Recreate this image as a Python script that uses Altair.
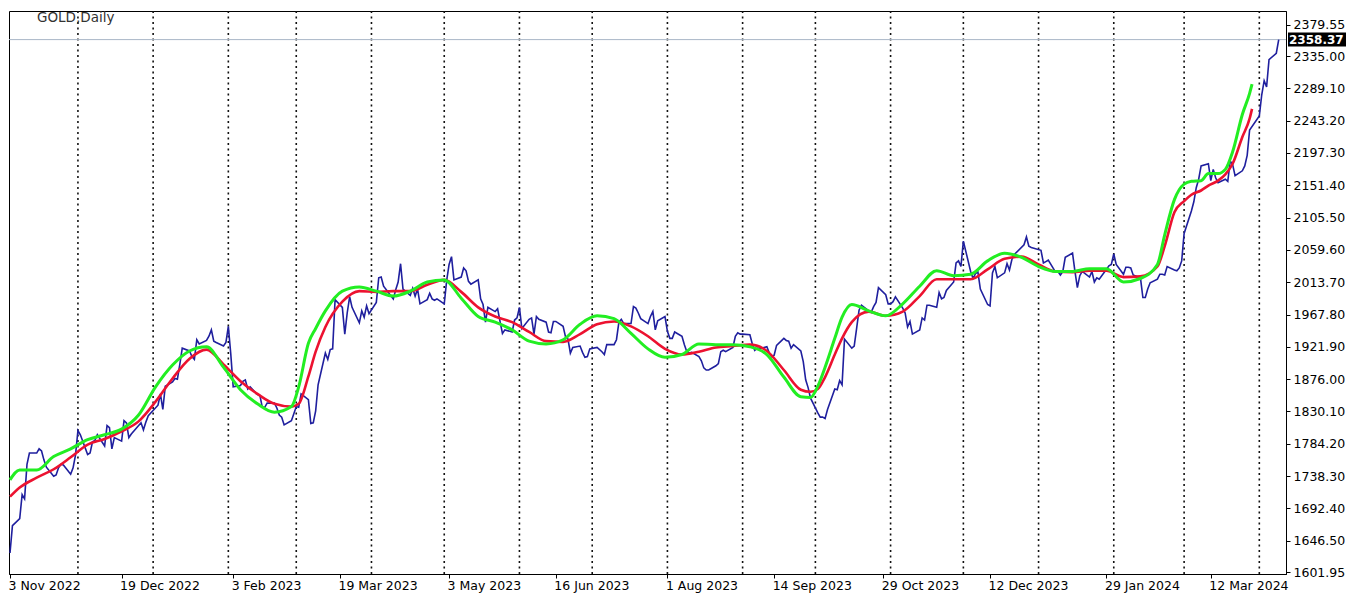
import altair as alt
import pandas as pd

# ---------------- data ----------------
symbol_label = "GOLD,Daily"
last_price = 2358.37

close_dates = [
"2022-11-03","2022-11-04","2022-11-07","2022-11-08","2022-11-09","2022-11-10","2022-11-11","2022-11-14","2022-11-15","2022-11-16","2022-11-17","2022-11-18","2022-11-21","2022-11-22","2022-11-23","2022-11-24","2022-11-25","2022-11-28","2022-11-29","2022-11-30",
"2022-12-01","2022-12-02","2022-12-05","2022-12-06","2022-12-07","2022-12-08","2022-12-09","2022-12-12","2022-12-13","2022-12-14","2022-12-15","2022-12-16","2022-12-19","2022-12-20","2022-12-21","2022-12-22","2022-12-23","2022-12-27","2022-12-28","2022-12-29","2022-12-30",
"2023-01-03","2023-01-04","2023-01-05","2023-01-06","2023-01-09","2023-01-10","2023-01-11","2023-01-12","2023-01-13","2023-01-16","2023-01-17","2023-01-18","2023-01-19","2023-01-20","2023-01-23","2023-01-24","2023-01-25","2023-01-26","2023-01-27","2023-01-30","2023-01-31",
"2023-02-01","2023-02-02","2023-02-03","2023-02-06","2023-02-07","2023-02-08","2023-02-09","2023-02-10","2023-02-13","2023-02-14","2023-02-15","2023-02-16","2023-02-17","2023-02-20","2023-02-21","2023-02-22","2023-02-23","2023-02-24","2023-02-27","2023-02-28",
"2023-03-01","2023-03-02","2023-03-03","2023-03-06","2023-03-07","2023-03-08","2023-03-09","2023-03-10","2023-03-13","2023-03-14","2023-03-15","2023-03-16","2023-03-17","2023-03-20","2023-03-21","2023-03-22","2023-03-23","2023-03-24","2023-03-27","2023-03-28","2023-03-29","2023-03-30","2023-03-31",
"2023-04-03","2023-04-04","2023-04-05","2023-04-06","2023-04-10","2023-04-11","2023-04-12","2023-04-13","2023-04-14","2023-04-17","2023-04-18","2023-04-19","2023-04-20","2023-04-21","2023-04-24","2023-04-25","2023-04-26","2023-04-27","2023-04-28",
"2023-05-01","2023-05-02","2023-05-03","2023-05-04","2023-05-05","2023-05-08","2023-05-09","2023-05-10","2023-05-11","2023-05-12","2023-05-15","2023-05-16","2023-05-17","2023-05-18","2023-05-19","2023-05-22","2023-05-23","2023-05-24","2023-05-25","2023-05-26","2023-05-29","2023-05-30","2023-05-31",
"2023-06-01","2023-06-02","2023-06-05","2023-06-06","2023-06-07","2023-06-08","2023-06-09","2023-06-12","2023-06-13","2023-06-14","2023-06-15","2023-06-16","2023-06-19","2023-06-20","2023-06-21","2023-06-22","2023-06-23","2023-06-26","2023-06-27","2023-06-28","2023-06-29","2023-06-30",
"2023-07-03","2023-07-05","2023-07-06","2023-07-07","2023-07-10","2023-07-11","2023-07-12","2023-07-13","2023-07-14","2023-07-17","2023-07-18","2023-07-19","2023-07-20","2023-07-21","2023-07-24","2023-07-25","2023-07-26","2023-07-27","2023-07-28","2023-07-31",
"2023-08-01","2023-08-02","2023-08-03","2023-08-04","2023-08-07","2023-08-08","2023-08-09","2023-08-10","2023-08-11","2023-08-14","2023-08-15","2023-08-16","2023-08-17","2023-08-18","2023-08-21","2023-08-22","2023-08-23","2023-08-24","2023-08-25","2023-08-28","2023-08-29","2023-08-30","2023-08-31",
"2023-09-01","2023-09-04","2023-09-05","2023-09-06","2023-09-07","2023-09-08","2023-09-11","2023-09-12","2023-09-13","2023-09-14","2023-09-15","2023-09-18","2023-09-19","2023-09-20","2023-09-21","2023-09-22","2023-09-25","2023-09-26","2023-09-27","2023-09-28","2023-09-29",
"2023-10-02","2023-10-03","2023-10-04","2023-10-05","2023-10-06","2023-10-09","2023-10-10","2023-10-11","2023-10-12","2023-10-13","2023-10-16","2023-10-17","2023-10-18","2023-10-19","2023-10-20","2023-10-23","2023-10-24","2023-10-25","2023-10-26","2023-10-27","2023-10-30","2023-10-31",
"2023-11-01","2023-11-02","2023-11-03","2023-11-06","2023-11-07","2023-11-08","2023-11-09","2023-11-10","2023-11-13","2023-11-14","2023-11-15","2023-11-16","2023-11-17","2023-11-20","2023-11-21","2023-11-22","2023-11-23","2023-11-24","2023-11-27","2023-11-28","2023-11-29","2023-11-30",
"2023-12-01","2023-12-04","2023-12-05","2023-12-06","2023-12-07","2023-12-08","2023-12-11","2023-12-12","2023-12-13","2023-12-14","2023-12-15","2023-12-18","2023-12-19","2023-12-20","2023-12-21","2023-12-22","2023-12-26","2023-12-27","2023-12-28","2023-12-29",
"2024-01-02","2024-01-03","2024-01-04","2024-01-05","2024-01-08","2024-01-09","2024-01-10","2024-01-11","2024-01-12","2024-01-15","2024-01-16","2024-01-17","2024-01-18","2024-01-19","2024-01-22","2024-01-23","2024-01-24","2024-01-25","2024-01-26","2024-01-29","2024-01-30","2024-01-31",
"2024-02-01","2024-02-02","2024-02-05","2024-02-06","2024-02-07","2024-02-08","2024-02-09","2024-02-12","2024-02-13","2024-02-14","2024-02-15","2024-02-16","2024-02-19","2024-02-20","2024-02-21","2024-02-22","2024-02-23","2024-02-26","2024-02-27","2024-02-28","2024-02-29",
"2024-03-01","2024-03-04","2024-03-05","2024-03-06","2024-03-07","2024-03-08","2024-03-11","2024-03-12","2024-03-13","2024-03-14","2024-03-15","2024-03-18","2024-03-19","2024-03-20","2024-03-21","2024-03-22","2024-03-25","2024-03-26","2024-03-27","2024-03-28",
"2024-04-01","2024-04-02","2024-04-03","2024-04-04","2024-04-05","2024-04-08","2024-04-09",
]

close_values = [
1629,1668,1678,1712,1706,1755,1771,1771,1777,1774,1761,1751,1738,1740,1750,1755,1754,1741,1750,1768,
1803,1797,1769,1771,1787,1789,1797,1781,1810,1807,1777,1793,1788,1817,1814,1793,1798,1814,1804,1815,1824,
1839,1855,1833,1866,1872,1877,1876,1897,1920,1916,1908,1904,1932,1926,1931,1937,1946,1930,1928,1923,1928,
1951,1912,1865,1867,1873,1875,1862,1865,1854,1853,1836,1836,1842,1842,1835,1825,1822,1811,1817,1827,
1837,1836,1855,1847,1813,1814,1831,1868,1913,1904,1918,1919,1989,1978,1940,1970,1993,1978,1956,1973,1964,1980,1969,
1985,2020,2021,2008,1990,2003,2014,2040,2004,1995,2005,1994,2004,1983,1989,1998,1990,1988,1990,
1983,2016,2039,2050,2017,2021,2034,2030,2015,2011,2017,1990,1982,1957,1978,1972,1976,1958,1941,1946,1943,1960,1963,
1978,1948,1961,1963,1940,1965,1961,1957,1943,1942,1958,1958,1951,1936,1933,1913,1921,1923,1914,1907,1908,1919,
1921,1915,1911,1925,1925,1932,1957,1961,1955,1955,1979,1977,1970,1962,1955,1965,1972,1946,1959,1965,
1944,1934,1934,1943,1937,1925,1915,1913,1914,1908,1902,1892,1889,1889,1895,1898,1915,1917,1915,1921,1937,1942,1940,
1940,1939,1926,1917,1920,1919,1922,1913,1908,1910,1924,1934,1931,1930,1920,1925,1916,1901,1875,1864,1849,
1828,1822,1822,1820,1833,1862,1861,1874,1868,1933,1920,1923,1948,1974,1981,1973,1971,1979,1985,2006,1996,1983,
1983,1986,1993,1977,1970,1950,1958,1940,1946,1963,1960,1981,1981,1978,1999,1990,1992,2002,2014,2041,2044,2036,
2072,2029,2019,2026,2028,2004,1982,1980,2027,2036,2020,2027,2040,2031,2046,2053,2067,2078,2065,2063,
2059,2041,2043,2045,2028,2029,2024,2029,2049,2055,2029,2006,2023,2029,2021,2029,2014,2020,2018,2032,2037,2039,
2054,2039,2025,2035,2035,2034,2024,2020,1992,1992,2004,2013,2018,2025,2025,2024,2036,2031,2030,2034,2044,
2083,2115,2128,2148,2160,2179,2182,2158,2174,2162,2155,2160,2157,2186,2181,2165,2172,2179,2194,2230,
2250,2280,2300,2291,2330,2339,2358.37,
]

ma_dates = [
"2022-11-03","2022-11-07","2022-11-14","2022-11-21","2022-11-28",
"2022-12-05","2022-12-12","2022-12-19","2022-12-26",
"2023-01-02","2023-01-09","2023-01-16","2023-01-23","2023-01-30",
"2023-02-06","2023-02-13","2023-02-20","2023-02-27",
"2023-03-02","2023-03-06","2023-03-09","2023-03-13","2023-03-20","2023-03-27",
"2023-04-03","2023-04-10","2023-04-17","2023-04-24",
"2023-05-01","2023-05-08","2023-05-15","2023-05-22","2023-05-29",
"2023-06-05","2023-06-12","2023-06-19","2023-06-26",
"2023-07-03","2023-07-10","2023-07-17","2023-07-24","2023-07-31",
"2023-08-07","2023-08-14","2023-08-21","2023-08-28",
"2023-09-04","2023-09-11","2023-09-18","2023-09-25","2023-09-29",
"2023-10-02","2023-10-05","2023-10-09","2023-10-12","2023-10-16","2023-10-23","2023-10-30",
"2023-11-06","2023-11-13","2023-11-20","2023-11-27",
"2023-12-04","2023-12-11","2023-12-18","2023-12-25",
"2024-01-01","2024-01-08","2024-01-15","2024-01-22","2024-01-29",
"2024-02-05","2024-02-12","2024-02-19","2024-02-22","2024-02-26",
"2024-03-01","2024-03-04","2024-03-08","2024-03-11","2024-03-15","2024-03-18","2024-03-21","2024-03-25","2024-03-28","2024-03-29",
]

ma_fast = [
1733,1747,1747,1766,1777,
1790,1797,1805,1825,
1865,1896,1916,1922,1893,
1861,1841,1829,1837,
1865,1927,1948,1973,2001,2007,
2001,1994,2001,2014,
2017,1991,1965,1957,1946,
1930,1926,1932,1954,
1966,1962,1941,1919,1907,
1911,1926,1925,1925,
1922,1911,1879,1851,1850,
1866,1893,1934,1964,1982,1973,1966,
1983,2008,2030,2023,
2025,2044,2055,2049,
2036,2029,2029,2033,2033,
2014,2019,2039,2081,2131,
2153,2157,2158,2168,2168,2174,2199,2252,2282,2295,
]

ma_slow = [
1709,1722,1736,1748,1765,
1783,1791,1802,1816,
1844,1877,1905,1918,1897,
1873,1855,1841,1837,
1841,1880,1915,1950,1986,2001,
2000,2001,2001,2010,
2017,2000,1978,1965,1957,
1943,1930,1929,1940,
1954,1958,1951,1937,1919,
1911,1915,1921,1923,
1925,1916,1889,1861,1858,
1862,1879,1911,1934,1957,1972,1966,
1972,1994,2018,2018,
2018,2032,2047,2050,
2039,2029,2028,2030,2030,
2021,2022,2036,2065,2113,
2129,2138,2144,2151,2158,2167,2182,2220,2246,2260,
]

month_starts = [
"2022-12-01","2023-01-01","2023-02-01","2023-03-01","2023-04-01","2023-05-01",
"2023-06-01","2023-07-01","2023-08-01","2023-09-01","2023-10-01","2023-11-01",
"2023-12-01","2024-01-01","2024-02-01","2024-03-01","2024-04-01",
]

x_label_dates = [
"2022-11-03","2022-12-19","2023-02-03","2023-03-19","2023-05-03","2023-06-16",
"2023-08-01","2023-09-14","2023-10-29","2023-12-12","2024-01-29","2024-03-12",
]

y_tick_values = [1601.95, 1646.50, 1692.40, 1738.30, 1784.20, 1830.10, 1876.00, 1921.90,
                 1967.80, 2013.70, 2059.60, 2105.50, 2151.40, 2197.30, 2243.20, 2289.10,
                 2335.00, 2379.55]
y_domain = [1599.2, 2399.0]
x_domain = ["2022-11-02 14:00", "2024-04-12 00:00"]

# ---------------- chart ----------------
W, H = 1277, 563
PAD = {"left": 1, "top": 3, "right": 60, "bottom": 19}
FONT = "DejaVu Sans"


def ms(s):
    return int(pd.Timestamp(s, tz="UTC").value // 10**6)


df_close = pd.DataFrame({"date": close_dates, "close": close_values})
df_ma = pd.DataFrame({"date": ma_dates, "fast": ma_fast, "slow": ma_slow})
df_months = pd.DataFrame({"date": month_starts})
df_price = pd.DataFrame({"price": [last_price], "label": [f"{last_price:.2f}"]})
df_title = pd.DataFrame({"t": [symbol_label]})

x_scale = alt.Scale(type="utc", domain=[ms(d) for d in x_domain], nice=False)
y_scale = alt.Scale(domain=y_domain, zero=False, nice=False)

x_axis = alt.Axis(
    values=[ms(d) for d in x_label_dates],
    labelExpr="utcFormat(datum.value, '%-d %b %Y')",
    orient="bottom", title=None, grid=False,
    tickSize=4, tickColor="black", domainColor="black",
    labelAlign="left", labelBaseline="top", labelPadding=1, labelOffset=-2,
    labelFont=FONT, labelFontSize=12.5, labelColor="black",
    labelOverlap=False, labelFlush=False, labelBound=False,
)
y_axis = alt.Axis(
    values=y_tick_values, format=".2f", orient="right", title=None, grid=False,
    tickSize=4, tickColor="black", domainColor="black", labelPadding=3,
    labelFont=FONT, labelFontSize=12.5, labelColor="black",
    labelOverlap=False, labelFlush=False, labelBound=False,
)

X = alt.X("date:T", scale=x_scale, axis=x_axis)

months = alt.Chart(df_months).mark_rule(
    color="#111111", strokeWidth=1.6, strokeDash=[2, 3.5]
).encode(x=X)

price_line = alt.Chart(df_price).mark_rule(color="#a9b7c7", strokeWidth=1).encode(
    y=alt.Y("price:Q", scale=y_scale, axis=y_axis),
    x=alt.value(0), x2=alt.value(W),
)

close_line = alt.Chart(df_close).mark_line(color="#1f1f9e", strokeWidth=1.6).encode(
    x=X, y=alt.Y("close:Q", scale=y_scale, axis=y_axis)
)

slow_line = alt.Chart(df_ma).mark_line(
    color="#ec1230", strokeWidth=2.6, interpolate="monotone"
).encode(x=X, y=alt.Y("slow:Q", scale=y_scale, axis=y_axis))

fast_line = alt.Chart(df_ma).mark_line(
    color="#22ee22", strokeWidth=3, interpolate="monotone"
).encode(x=X, y=alt.Y("fast:Q", scale=y_scale, axis=y_axis))

price_box = alt.Chart(df_price).mark_rule(color="black", strokeWidth=14).encode(
    y=alt.Y("price:Q", scale=y_scale, axis=y_axis),
    x=alt.value(W + 2), x2=alt.value(W + PAD["right"]),
)
price_text = alt.Chart(df_price).mark_text(
    align="left", baseline="middle", color="white", font=FONT,
    fontSize=12, fontWeight="bold"
).encode(
    y=alt.Y("price:Q", scale=y_scale, axis=y_axis),
    x=alt.value(W + 3), text="label:N",
)

title_text = alt.Chart(df_title).mark_text(
    align="left", baseline="middle", color="#333333", font=FONT, fontSize=13.5
).encode(x=alt.value(28), y=alt.value(7), text="t:N")

chart = alt.layer(
    months, price_line, close_line, slow_line, fast_line, price_box, price_text, title_text
).properties(
    width=W, height=H,
    autosize=alt.AutoSizeParams(type="none"),
    padding=PAD,
).configure(background="white").configure_view(stroke="black", strokeWidth=1)

chart.save("out.html", embed_options={"renderer": "svg", "actions": False})
